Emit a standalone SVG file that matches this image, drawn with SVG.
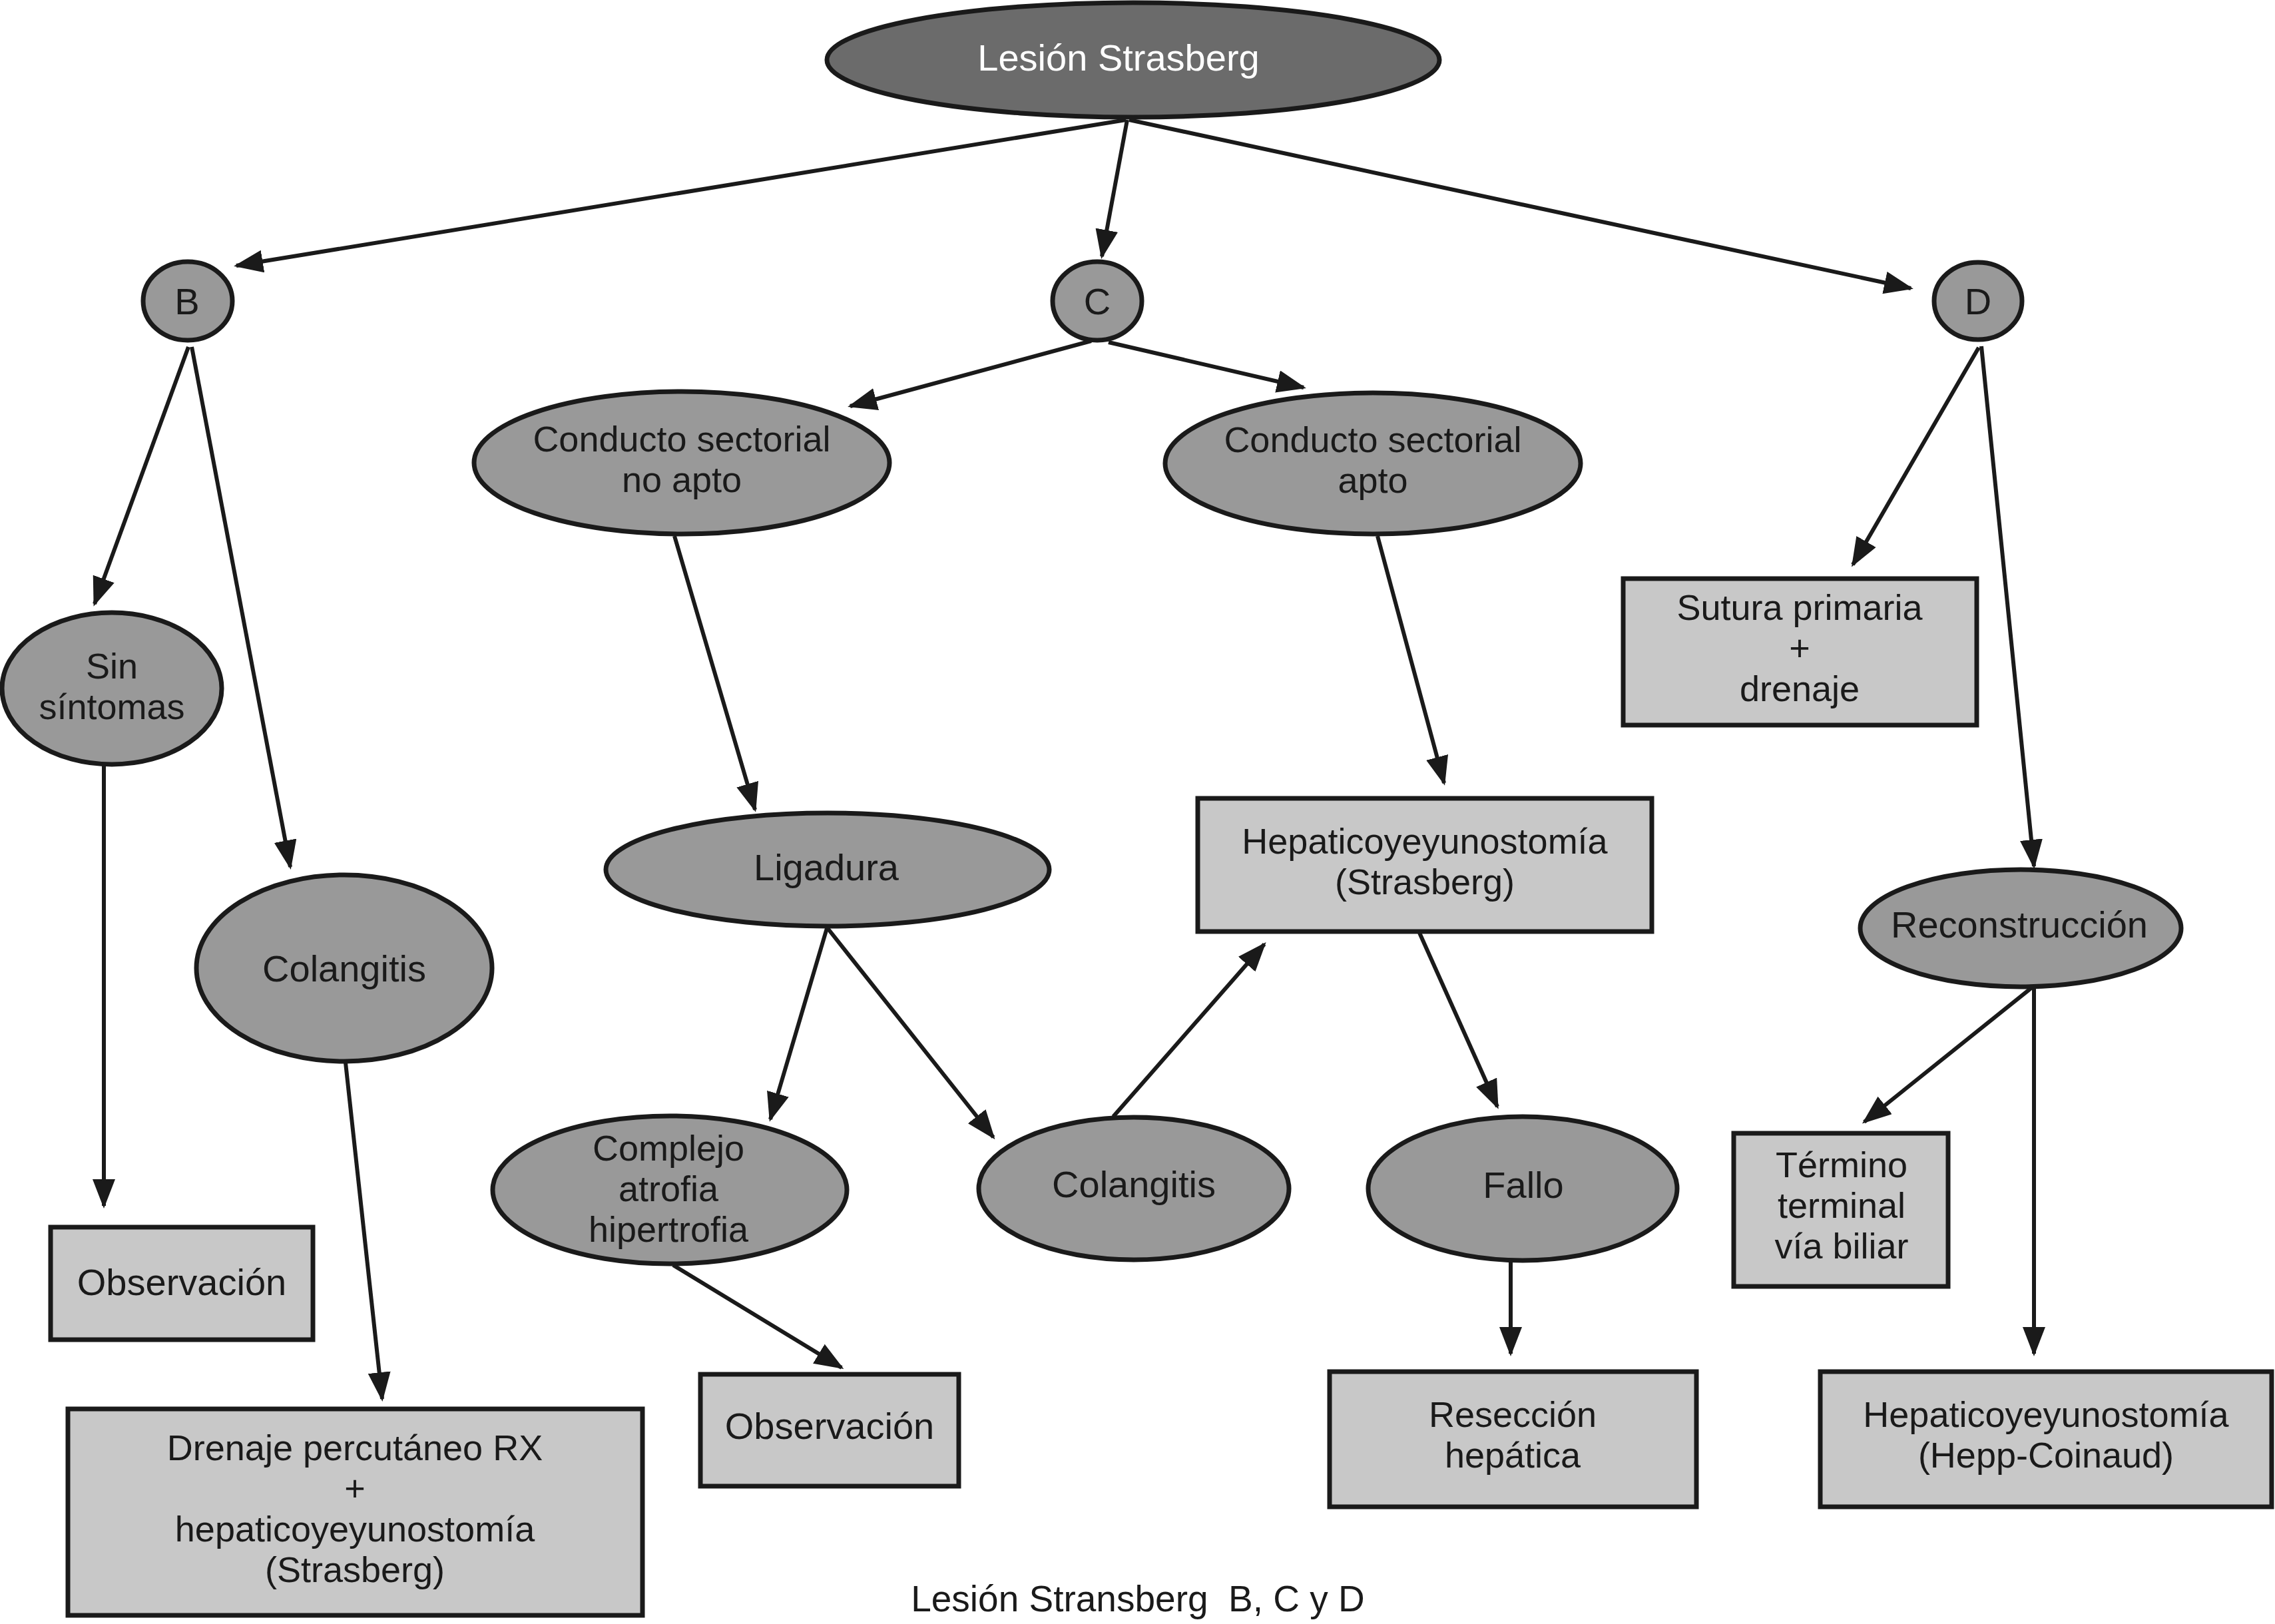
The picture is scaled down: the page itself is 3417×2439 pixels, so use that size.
<svg xmlns="http://www.w3.org/2000/svg" width="3417" height="2439" viewBox="0 0 3417 2439">
<defs>
<style>
.el{fill:#999999;stroke:#1a1a1a;stroke-width:7}
.bx{fill:#c8c8c8;stroke:#1a1a1a;stroke-width:7}
.t{font-family:"Liberation Sans",Arial,sans-serif;font-size:56px;fill:#1a1a1a;text-anchor:middle}
.m{font-size:54px}
.w{fill:#ffffff}
.c{fill:none;stroke:#1a1a1a;stroke-width:6;marker-end:url(#ah)}
</style>
<marker id="ah" markerUnits="userSpaceOnUse" markerWidth="44" markerHeight="34" viewBox="0 0 44 34" refX="40" refY="17" orient="auto">
<path d="M0,0 L44,17 L0,34 z" fill="#1a1a1a"/>
</marker>
</defs>
<rect width="3417" height="2439" fill="#ffffff"/>
<g id="connectors">
<line class="c" x1="1691" y1="180" x2="355" y2="399"/>
<line class="c" x1="1693" y1="180" x2="1655" y2="385"/>
<line class="c" x1="1696" y1="180" x2="2870" y2="433"/>
<line class="c" x1="283" y1="521" x2="142" y2="907"/>
<line class="c" x1="288" y1="521" x2="436" y2="1302"/>
<line class="c" x1="156" y1="1150" x2="156" y2="1811"/>
<line class="c" x1="519" y1="1596" x2="574" y2="2101"/>
<line class="c" x1="1639" y1="512" x2="1277" y2="610"/>
<line class="c" x1="1665" y1="514" x2="1958" y2="582"/>
<line class="c" x1="1013" y1="805" x2="1134" y2="1216"/>
<line class="c" x1="2069" y1="805" x2="2169" y2="1176"/>
<line class="c" x1="1242" y1="1394" x2="1157" y2="1681"/>
<line class="c" x1="1243" y1="1394" x2="1492" y2="1708"/>
<line class="c" x1="1011" y1="1900" x2="1264" y2="2054"/>
<line class="c" x1="1672" y1="1677" x2="1899" y2="1418"/>
<line class="c" x1="2132" y1="1401" x2="2249" y2="1662"/>
<line class="c" x1="2269" y1="1894" x2="2269" y2="2033"/>
<line class="c" x1="2972" y1="522" x2="2783" y2="848"/>
<line class="c" x1="2976" y1="520" x2="3055" y2="1301"/>
<line class="c" x1="3052" y1="1483" x2="2800" y2="1685"/>
<line class="c" x1="3055" y1="1483" x2="3055" y2="2033"/>
</g>
<g id="n-lesion">
<ellipse cx="1702" cy="90" rx="460" ry="86" fill="#6b6b6b" stroke="#1a1a1a" stroke-width="7"/>
<text class="t w" x="1680" y="106">Lesión Strasberg</text>
</g>
<g id="n-b">
<ellipse class="el" cx="282" cy="452" rx="67" ry="59"/>
<text class="t" x="281" y="472">B</text>
</g>
<g id="n-c">
<ellipse class="el" cx="1648" cy="452" rx="67" ry="59"/>
<text class="t" x="1648" y="472">C</text>
</g>
<g id="n-d">
<ellipse class="el" cx="2971" cy="452" rx="66" ry="58"/>
<text class="t" x="2971" y="472">D</text>
</g>
<g id="n-sin">
<ellipse class="el" cx="168" cy="1034" rx="165" ry="114"/>
<text class="t m" x="168" y="1019">Sin</text>
<text class="t m" x="168" y="1080">síntomas</text>
</g>
<g id="n-colb">
<ellipse class="el" cx="517" cy="1454" rx="222" ry="140"/>
<text class="t" x="517" y="1474">Colangitis</text>
</g>
<g id="n-noapto">
<ellipse class="el" cx="1024" cy="695" rx="312" ry="107"/>
<text class="t m" x="1024" y="678">Conducto sectorial</text>
<text class="t m" x="1024" y="739">no apto</text>
</g>
<g id="n-apto">
<ellipse class="el" cx="2062" cy="696" rx="312" ry="106"/>
<text class="t m" x="2062" y="679">Conducto sectorial</text>
<text class="t m" x="2062" y="740">apto</text>
</g>
<g id="n-ligadura">
<ellipse class="el" cx="1243" cy="1306" rx="333" ry="85"/>
<text class="t" x="1241" y="1322">Ligadura</text>
</g>
<g id="n-complejo">
<ellipse class="el" cx="1006" cy="1787" rx="266" ry="111"/>
<text class="t m" x="1004" y="1743">Complejo</text>
<text class="t m" x="1004" y="1804">atrofia</text>
<text class="t m" x="1004" y="1865">hipertrofia</text>
</g>
<g id="n-colc">
<ellipse class="el" cx="1703" cy="1785" rx="233" ry="107"/>
<text class="t" x="1703" y="1798">Colangitis</text>
</g>
<g id="n-fallo">
<ellipse class="el" cx="2287" cy="1785" rx="232" ry="108"/>
<text class="t" x="2288" y="1799">Fallo</text>
</g>
<g id="n-reconstruccion">
<ellipse class="el" cx="3035" cy="1394" rx="241" ry="88"/>
<text class="t" x="3033" y="1408">Reconstrucción</text>
</g>
<g id="n-obsb">
<rect class="bx" x="76" y="1843" width="394" height="169"/>
<text class="t" x="273" y="1945">Observación</text>
</g>
<g id="n-drenaje">
<rect class="bx" x="102" y="2116" width="863" height="310"/>
<text class="t m" x="533" y="2193">Drenaje percutáneo RX</text>
<text class="t m" x="533" y="2254">+</text>
<text class="t m" x="533" y="2315">hepaticoyeyunostomía</text>
<text class="t m" x="533" y="2376">(Strasberg)</text>
</g>
<g id="n-obsc">
<rect class="bx" x="1052" y="2064" width="388" height="168"/>
<text class="t" x="1246" y="2161">Observación</text>
</g>
<g id="n-hepstras">
<rect class="bx" x="1799" y="1199" width="682" height="200"/>
<text class="t m" x="2140" y="1282">Hepaticoyeyunostomía</text>
<text class="t m" x="2140" y="1343">(Strasberg)</text>
</g>
<g id="n-sutura">
<rect class="bx" x="2438" y="869" width="531" height="220"/>
<text class="t m" x="2703" y="931">Sutura primaria</text>
<text class="t m" x="2703" y="992">+</text>
<text class="t m" x="2703" y="1053">drenaje</text>
</g>
<g id="n-termino">
<rect class="bx" x="2604" y="1702" width="322" height="230"/>
<text class="t m" x="2766" y="1768">Término</text>
<text class="t m" x="2766" y="1829">terminal</text>
<text class="t m" x="2766" y="1890">vía biliar</text>
</g>
<g id="n-reseccion">
<rect class="bx" x="1997" y="2060" width="551" height="203"/>
<text class="t m" x="2272" y="2143">Resección</text>
<text class="t m" x="2272" y="2204">hepática</text>
</g>
<g id="n-hepp">
<rect class="bx" x="2734" y="2060" width="678" height="203"/>
<text class="t m" x="3073" y="2143">Hepaticoyeyunostomía</text>
<text class="t m" x="3073" y="2204">(Hepp-Coinaud)</text>
</g>
<text class="t" x="1709" y="2420" style="font-size:55px;white-space:pre">Lesión Stransberg  B, C y D</text>
</svg>
